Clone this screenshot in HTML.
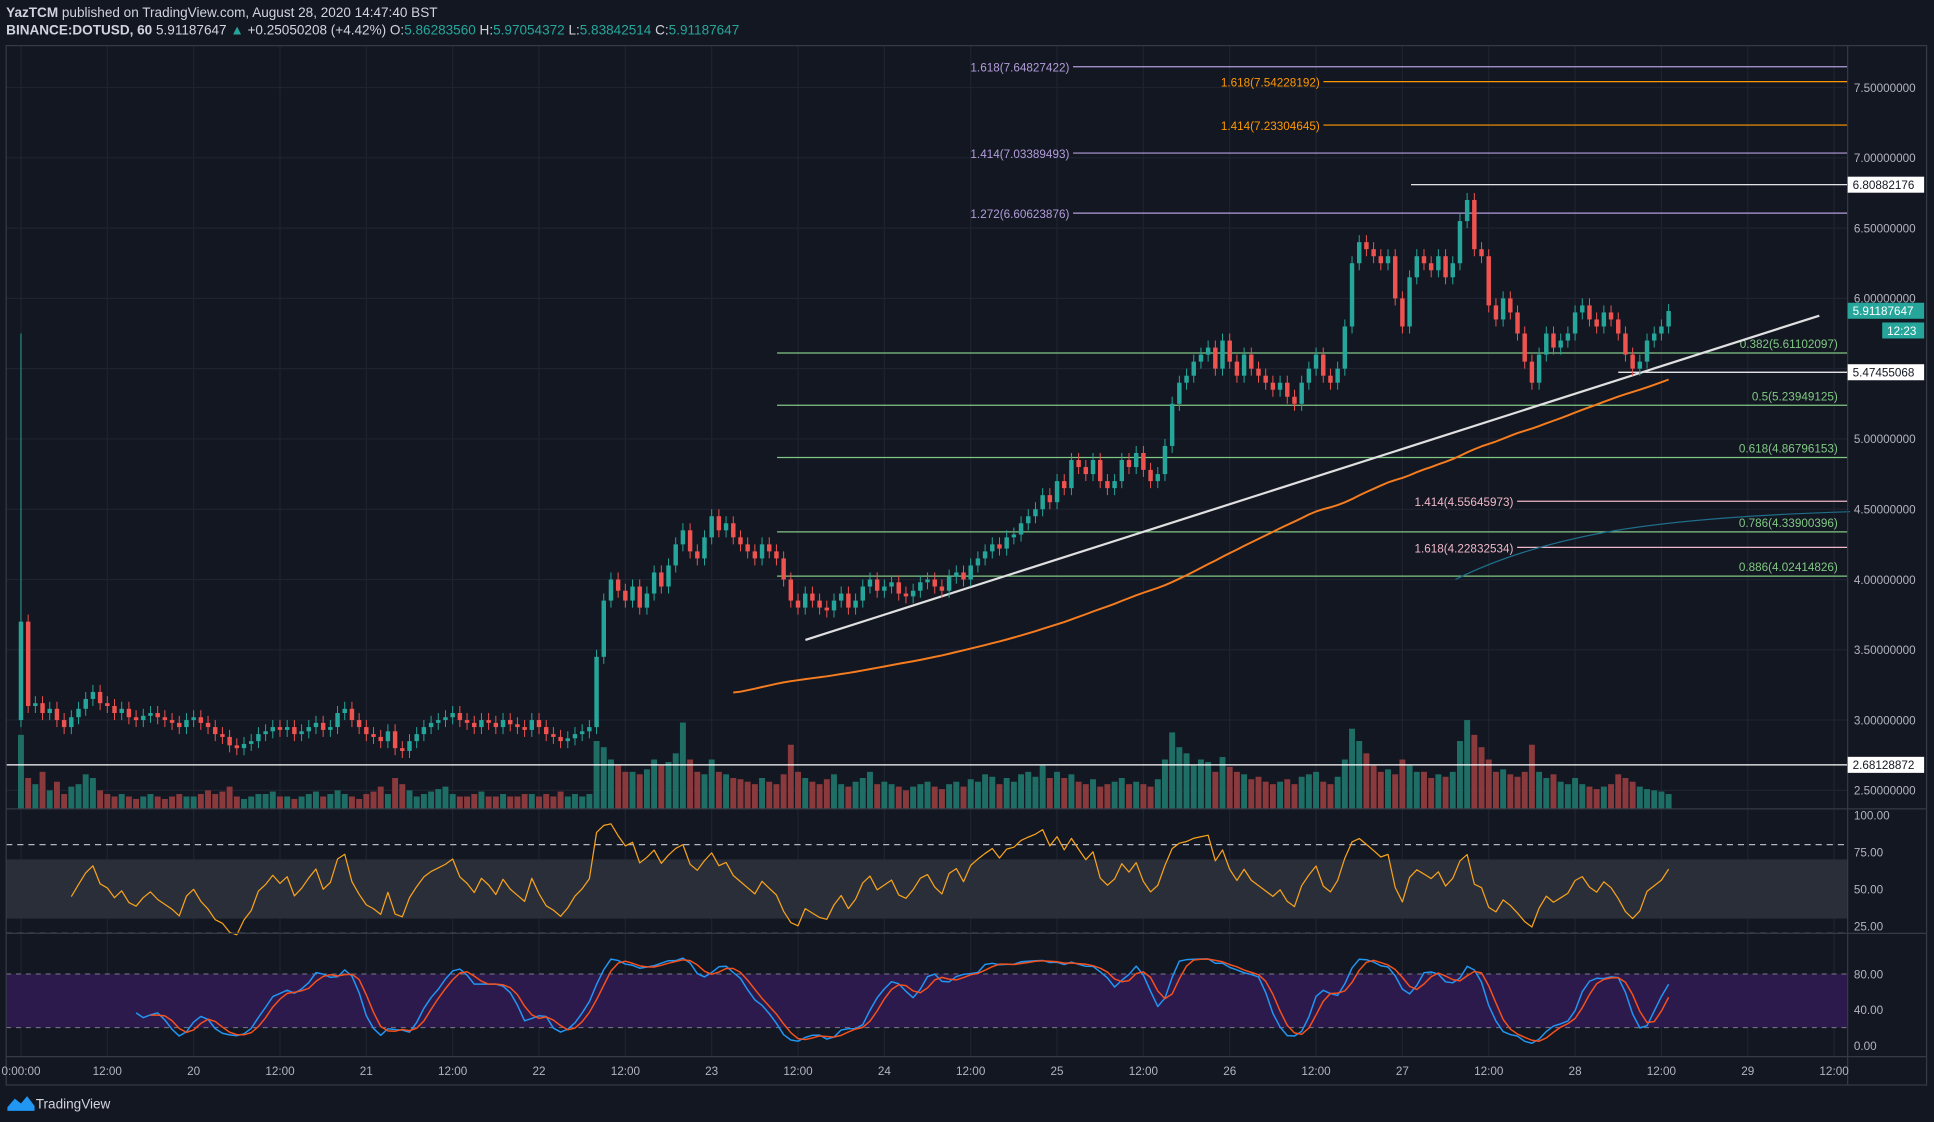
<!DOCTYPE html>
<html><head><meta charset="utf-8"><title>DOTUSD chart</title>
<style>
html,body{margin:0;padding:0;background:#131722;overflow:hidden}
svg{display:block}
text{font-family:"Liberation Sans",sans-serif}
</style></head>
<body>
<svg id="chart" width="1934" height="1122" viewBox="0 0 1568 910" preserveAspectRatio="none" xmlns="http://www.w3.org/2000/svg">
<rect x="0" y="0" width="1568" height="910" fill="#131722"/>
<g>
<text x="5" y="14" font-size="11" fill="#d1d4dc"><tspan font-weight="bold">YazTCM</tspan> published on TradingView.com, August 28, 2020 14:47:40 BST</text>
<text x="5" y="28" font-size="11" fill="#d1d4dc"><tspan font-weight="bold">BINANCE:DOTUSD, 60</tspan> 5.91187647 <tspan fill="#26a69a">▲</tspan> +0.25050208 (+4.42%) O:<tspan fill="#26a69a">5.86283560</tspan> H:<tspan fill="#26a69a">5.97054372</tspan> L:<tspan fill="#26a69a">5.83842514</tspan> C:<tspan fill="#26a69a">5.91187647</tspan></text>
</g>
<g id="grid"></g>
<g id="bands"></g>
<g id="vol"></g>
<g id="draw"></g>
<g id="candles"></g>
<g id="ind"></g>
<g id="axes"></g>
<g>
<path d="M6 898 L12 891 L17 895 L22 889 L28 897 L28 901 L6 901 Z" fill="#2196f3"/>
<text x="29" y="899" font-size="11" fill="#d1d4dc">TradingView</text>
</g>
</svg>
<script>
const closes = [
3.70,3.10,3.12,3.05,3.08,3.00,2.95,3.02,3.08,3.15,3.20,3.12,3.10,3.05,3.08,3.02,3.00,3.03,3.05,3.02,3.00,2.98,2.95,3.00,
3.02,2.98,2.95,2.90,2.88,2.82,2.80,2.83,2.85,2.90,2.92,2.95,2.93,2.95,2.90,2.92,2.95,2.98,2.93,2.95,3.05,3.08,3.00,2.95,
2.90,2.88,2.85,2.92,2.80,2.78,2.85,2.90,2.95,2.98,3.00,3.02,3.05,3.00,2.98,2.95,3.00,2.98,2.95,3.00,2.97,2.95,2.93,3.00,
2.95,2.90,2.88,2.85,2.87,2.90,2.92,2.95,3.45,3.85,4.00,3.92,3.85,3.95,3.80,3.90,4.05,3.95,4.10,4.25,4.35,4.20,4.15,4.30,
4.45,4.35,4.40,4.30,4.25,4.20,4.15,4.25,4.20,4.15,4.00,3.85,3.80,3.90,3.85,3.80,3.78,3.85,3.90,3.80,3.85,3.95,4.00,3.92,
3.95,3.98,3.90,3.88,3.92,3.98,4.00,3.95,3.92,4.02,4.05,4.00,4.10,4.15,4.20,4.25,4.22,4.30,4.32,4.40,4.45,4.50,4.60,4.55,
4.70,4.65,4.85,4.80,4.75,4.85,4.70,4.65,4.70,4.85,4.80,4.90,4.78,4.70,4.75,4.95,5.25,5.40,5.45,5.55,5.60,5.65,5.50,5.70,
5.55,5.45,5.60,5.50,5.45,5.40,5.35,5.40,5.30,5.25,5.40,5.50,5.60,5.45,5.40,5.50,5.80,6.25,6.40,6.35,6.30,6.25,6.30,6.00,
5.80,6.15,6.30,6.25,6.20,6.30,6.15,6.25,6.55,6.70,6.35,6.30,5.95,5.85,6.00,5.90,5.75,5.55,5.40,5.60,5.75,5.65,5.70,5.75,
5.90,5.95,5.85,5.80,5.90,5.85,5.75,5.60,5.50,5.55,5.70,5.75,5.80,5.91];
const volumes = [
60,25,20,30,15,22,12,18,20,28,25,15,12,10,12,10,8,10,12,10,8,10,12,10,
10,12,15,12,14,18,10,8,10,12,12,14,10,10,8,10,12,14,10,12,15,12,10,8,
12,14,18,12,25,20,15,10,12,14,16,18,12,10,10,12,14,10,10,12,10,10,12,12,
10,12,10,14,10,12,10,12,55,50,40,35,30,30,28,32,40,35,38,45,70,40,30,28,
40,30,28,25,24,22,20,25,22,20,28,52,30,25,22,20,24,28,20,18,22,25,30,20,
22,20,18,15,18,20,22,18,16,20,22,18,24,22,28,26,20,25,22,28,30,26,35,25,
30,25,28,22,20,24,18,20,22,25,20,22,20,18,24,40,62,50,45,35,40,38,30,42,
34,30,28,24,26,22,20,22,24,20,26,28,30,22,20,26,40,65,55,45,35,30,32,28,
40,35,30,30,25,28,26,30,55,72,60,50,40,30,32,28,26,30,52,30,25,28,22,20,
25,20,18,16,18,20,28,25,22,18,16,15,14,12];
const priceTicks = [7.5,7.0,6.5,6.0,5.5,5.0,4.5,4.0,3.5,3.0,2.5];
const timeLabels = ["0:00:00","12:00","20","12:00","21","12:00","22","12:00","23","12:00","24","12:00","25","12:00","26","12:00","27","12:00","28","12:00","29","12:00"];
const rsiTicks = [100,75,50,25];
const stochTicks = [80,40,0];

const NS="http://www.w3.org/2000/svg";
function mk(parent,tag,attrs){const e=document.createElementNS(NS,tag);for(const k in attrs)e.setAttribute(k,attrs[k]);parent.appendChild(e);return e;}
const X0=17, DX=70/12, PR=1498, TX0=17;
const xAt=i=>X0+i*DX;
const yP=p=>71+(7.5-p)*114;
const yR=v=>781-1.2*v;
const yS=v=>848-0.725*v;
const yV=v=>656-v*1.0;
const G=id=>document.getElementById(id);

const grid=G('grid');
timeLabels.forEach((t,i)=>{const x=TX0+i*70;const l=mk(grid,'line',{x1:x,x2:x,y1:37,y2:857,stroke:'#1f2330','stroke-width':1});

});
priceTicks.forEach(p=>{const l=mk(grid,'line',{x1:5,x2:PR,y1:yP(p),y2:yP(p),stroke:'#1f2330','stroke-width':1});

});

const bands=G('bands');
mk(bands,'rect',{x:5,y:yR(70),width:PR-5,height:yR(30)-yR(70),fill:'#2a2e39'});
[80,20].forEach(v=>mk(bands,'line',{x1:5,x2:PR,y1:yR(v),y2:yR(v),stroke:'#b2b5be','stroke-dasharray':'5 4','stroke-width':1}));
mk(bands,'rect',{x:5,y:yS(80),width:PR-5,height:yS(20)-yS(80),fill:'#2d1a4d'});
[80,20].forEach(v=>mk(bands,'line',{x1:5,x2:PR,y1:yS(v),y2:yS(v),stroke:'#787b86','stroke-dasharray':'4 4','stroke-width':0.8}));

const cg=G('candles'), vg=G('vol');
closes.forEach((c,i)=>{
  const o=i===0?3.0:closes[i-1];
  const up=c>=o; const col=up?'#26a69a':'#ef5350';
  const x=xAt(i);
  const hi=i===0?5.75:Math.max(o,c)+0.05, lo=Math.min(o,c)-0.05;
  const w=mk(cg,'line',{x1:x,x2:x,y1:yP(hi),y2:yP(lo),stroke:col,'stroke-width':0.8});
  
  
  const b=mk(cg,'rect',{x:x-1.8,y:yP(Math.max(o,c)),width:3.6,height:Math.max(1,Math.abs(yP(o)-yP(c))),fill:col});
  
  
  const vb=mk(vg,'rect',{x:x-2.4,y:yV(volumes[i]),width:4.8,height:volumes[i],fill:up?'#1e6e66':'#8a3a3c'});
  
  
});

const ig=G('ind');
function poly(pts,color,w,name){const p=mk(ig,'polyline',{points:pts.map(q=>q.join(',')).join(' '),fill:'none',stroke:color,'stroke-width':w,'stroke-linejoin':'round'});

}
const ma=[];for(let i=99;i<closes.length;i++){let s=0;for(let j=i-99;j<=i;j++)s+=closes[j];ma.push([xAt(i),yP(s/100)]);}
poly(ma,'#f57c1f',1.6,'ma-100-line');
// RSI 14 (skip first spike candle)
const rsi=[];let ag=0.03,al=0.03;
for(let i=2;i<closes.length;i++){const d=closes[i]-closes[i-1];const g=Math.max(d,0),l=Math.max(-d,0);
 ag=(ag*6+g)/7;al=(al*6+l)/7;
 if(i>=7){const r=al===0?100:100-100/(1+ag/al);rsi.push([xAt(i),yR(Math.min(95,Math.max(5,r)))]);}}
poly(rsi,'#f7a21b',1,'rsi-line');
const raw=[];for(let i=0;i<closes.length;i++){if(i<14){raw.push(null);continue;}let h=-1e9,l=1e9;for(let j=i-13;j<=i;j++){h=Math.max(h,closes[j]+0.03);l=Math.min(l,closes[j]-0.03);}raw.push(100*(closes[i]-l)/(h-l));}
const K=[],D=[];for(let i=0;i<closes.length;i++){K.push(i>=16?(raw[i]+raw[i-1]+raw[i-2])/3:null);}
for(let i=0;i<closes.length;i++){D.push(i>=18?(K[i]+K[i-1]+K[i-2])/3:null);}
poly(K.map((v,i)=>v===null?null:[xAt(i),yS(v)]).filter(Boolean),'#2196f3',1.2,'stoch-k-line');
poly(D.map((v,i)=>v===null?null:[xAt(i),yS(v)]).filter(Boolean),'#f4511e',1.2,'stoch-d-line');

const dg=G('draw');
const fibs=[
 {p:7.64827422,x1:870,lab:'1.618(7.64827422)',lx:867,anchor:'end',c:'#b39ddb'},
 {p:7.54228192,x1:1073,lab:'1.618(7.54228192)',lx:1070,anchor:'end',c:'#ff9800'},
 {p:7.23304645,x1:1073,lab:'1.414(7.23304645)',lx:1070,anchor:'end',c:'#ff9800'},
 {p:7.03389493,x1:870,lab:'1.414(7.03389493)',lx:867,anchor:'end',c:'#b39ddb'},
 {p:6.60623876,x1:870,lab:'1.272(6.60623876)',lx:867,anchor:'end',c:'#b39ddb'},
 {p:5.61102097,x1:630,lab:'0.382(5.61102097)',lx:1490,anchor:'end',c:'#81c784',ly:-4},
 {p:5.23949125,x1:630,lab:'0.5(5.23949125)',lx:1490,anchor:'end',c:'#81c784',ly:-4},
 {p:4.86796153,x1:630,lab:'0.618(4.86796153)',lx:1490,anchor:'end',c:'#81c784',ly:-4},
 {p:4.55645973,x1:1230,lab:'1.414(4.55645973)',lx:1227,anchor:'end',c:'#f0b8c8'},
 {p:4.33900396,x1:630,lab:'0.786(4.33900396)',lx:1490,anchor:'end',c:'#81c784',ly:-4},
 {p:4.22832534,x1:1230,lab:'1.618(4.22832534)',lx:1227,anchor:'end',c:'#f0b8c8'},
 {p:4.02414826,x1:630,lab:'0.886(4.02414826)',lx:1490,anchor:'end',c:'#81c784',ly:-4}];
fibs.forEach(f=>{const y=yP(f.p);
 const l=mk(dg,'line',{x1:f.x1,x2:PR,y1:y,y2:y,stroke:f.c,'stroke-width':1});
 
 
 const t=mk(dg,'text',{x:f.lx,y:y+(f.ly||4),'font-size':9.5,fill:f.c,'text-anchor':f.anchor});t.textContent=f.lab;
 
 });
const hl=[{p:6.80882176,x1:1144},{p:5.47455068,x1:1312},{p:2.68128872,x1:5}];
hl.forEach(h=>{const l=mk(dg,'line',{x1:h.x1,x2:PR,y1:yP(h.p),y2:yP(h.p),stroke:'#ffffff','stroke-width':1});
 
 });
const tl=mk(dg,'line',{x1:653,y1:519,x2:1475,y2:256,stroke:'#e0e0e0','stroke-width':1.8});


const ema=mk(dg,'path',{d:'M1180 470 Q1230 445 1300 432 T1500 415',fill:'none',stroke:'#1f6e8a','stroke-width':1});



const ax=G('axes');
mk(ax,'rect',{x:5,y:37,width:1557,height:843,fill:'none',stroke:'#363a45','stroke-width':1});
[656,757,857].forEach(y=>mk(ax,'line',{x1:5,x2:1562,y1:y,y2:y,stroke:'#363a45','stroke-width':1}));
mk(ax,'line',{x1:PR,x2:PR,y1:37,y2:880,stroke:'#363a45','stroke-width':1});
priceTicks.forEach(p=>{const t=mk(ax,'text',{x:1503,y:yP(p)+3.5,'font-size':9.5,fill:'#b2b5be'});t.textContent=p.toFixed(8);
 
 });
rsiTicks.forEach(v=>{const t=mk(ax,'text',{x:1503,y:yR(v)+3.5,'font-size':9.5,fill:'#b2b5be'});t.textContent=v.toFixed(2);
 
 });
stochTicks.forEach(v=>{const t=mk(ax,'text',{x:1503,y:yS(v)+3.5,'font-size':9.5,fill:'#b2b5be'});t.textContent=v.toFixed(2);
 
 });
timeLabels.forEach((s,i)=>{const t=mk(ax,'text',{x:TX0+i*70,y:872,'font-size':9.5,fill:'#b2b5be','text-anchor':'middle'});t.textContent=s;
 
 });
function box(y,txt,bg,fg,x,w,name){const r=mk(ax,'rect',{x:x,y:y-6.5,width:w,height:13,fill:bg});
 
 
 const t=mk(ax,'text',{x:x+4,y:y+3.5,'font-size':9.5,fill:fg});t.textContent=txt;}
box(yP(6.80882176),'6.80882176','#ffffff','#131722',1498,62,'level-label-6-81');
box(yP(5.47455068),'5.47455068','#ffffff','#131722',1498,62,'level-label-5-47');
box(yP(2.68128872),'2.68128872','#ffffff','#131722',1498,62,'level-label-2-68');
box(yP(5.91187647),'5.91187647','#26a69a','#ffffff',1498,62,'last-price-label');
box(yP(5.91187647)+16,'12:23','#26a69a','#ffffff',1526,34,'countdown-label');
</script>
</body></html>
